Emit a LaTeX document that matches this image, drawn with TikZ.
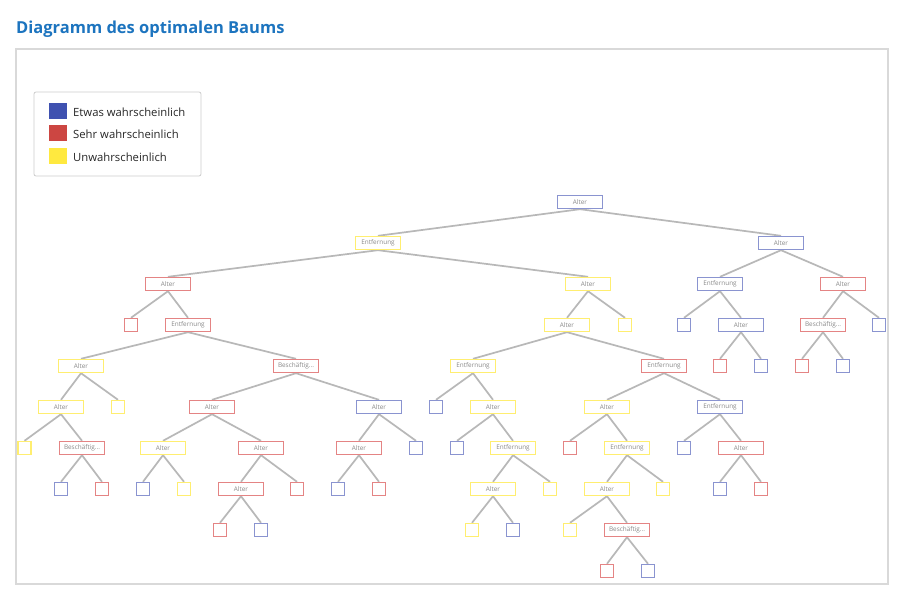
\documentclass[tikz,border=0pt]{standalone}
\usepackage{fontspec}
\setmainfont{Open Sans}
\usetikzlibrary{backgrounds}
\definecolor{titleblue}{HTML}{1C74BF}
\definecolor{sw blue}{HTML}{3F51B0}
\definecolor{sw red}{HTML}{CC4642}
\definecolor{sw yellow}{HTML}{FFE93F}
\definecolor{bd blue}{HTML}{8A94D0}
\definecolor{bd red}{HTML}{E48484}
\definecolor{bd yellow}{HTML}{FFEE70}
\definecolor{edgegray}{HTML}{B8B8B8}
\definecolor{txtgray}{HTML}{8A8A8A}
\tikzset{
  tbox/.style={draw, fill=white, line width=1.4pt, minimum width=45pt, minimum height=13pt, inner sep=0pt,
    font=\fontsize{6.4}{7}\selectfont, text=txtgray},
  lbox/.style={draw, fill=white, line width=1.4pt, minimum width=13pt, minimum height=13pt, inner sep=0pt},
  bn/.style={tbox, draw=bd blue}, rn/.style={tbox, draw=bd red}, yn/.style={tbox, draw=bd yellow},
  bl/.style={lbox, draw=bd blue}, rl/.style={lbox, draw=bd red}, yl/.style={lbox, draw=bd yellow},
  link/.style={draw=edgegray, line width=1.7pt},
  swatch/.style={minimum width=18pt, minimum height=16pt, inner sep=0pt},
  legtext/.style={anchor=west, inner sep=0pt, font=\fontsize{11.3}{13}\selectfont, text=black!85}
}
\begin{document}
\begin{tikzpicture}[x=1pt,y=-1pt]
\useasboundingbox (0,0) rectangle (905,601);
\node[anchor=west, inner sep=0pt, text=titleblue, font=\fontsize{16.5}{19}\selectfont\bfseries] (title) at (16,29) {Diagramm des optimalen Baums};
% legend
\draw[gray!40, line width=0.8pt, rounded corners=2pt, fill=white] (34,92) rectangle (201,176);
\node[swatch, fill=sw blue] (s1) at (58,111) {};
\node[swatch, fill=sw red] (s2) at (58,133) {};
\node[swatch, fill=sw yellow] (s3) at (58,156) {};
\node[legtext] (t1) at (73,112) {Etwas wahrscheinlich};
\node[legtext] (t2) at (73,134) {Sehr wahrscheinlich};
\node[legtext] (t3) at (73,157) {Unwahrscheinlich};
% tree nodes
\node[bn] (n0) at (580,202) {Alter};
\node[yn] (n1) at (378,243) {Entfernung};
\node[bn] (n2) at (781,243) {Alter};
\node[rn] (n3) at (168,284) {Alter};
\node[yn] (n4) at (588,284) {Alter};
\node[bn] (n5) at (720,284) {Entfernung};
\node[rn] (n6) at (843,284) {Alter};
\node[rl] (n7) at (131,325) {};
\node[rn] (n8) at (188,325) {Entfernung};
\node[yn] (n9) at (567,325) {Alter};
\node[yl] (n10) at (625,325) {};
\node[bl] (n11) at (684,325) {};
\node[bn] (n12) at (741,325) {Alter};
\node[rn] (n13) at (823,325) {Beschäftig...};
\node[bl] (n14) at (879,325) {};
\node[yn] (n15) at (81,366) {Alter};
\node[rn] (n16) at (296,366) {Beschäftig...};
\node[yn] (n17) at (473,366) {Entfernung};
\node[rn] (n18) at (664,366) {Entfernung};
\node[rl] (n19) at (720,366) {};
\node[bl] (n20) at (761,366) {};
\node[rl] (n21) at (802,366) {};
\node[bl] (n22) at (843,366) {};
\node[yn] (n23) at (61,407) {Alter};
\node[yl] (n24) at (118,407) {};
\node[rn] (n25) at (212,407) {Alter};
\node[bn] (n26) at (379,407) {Alter};
\node[bl] (n27) at (436,407) {};
\node[yn] (n28) at (493,407) {Alter};
\node[yn] (n29) at (607,407) {Alter};
\node[bn] (n30) at (720,407) {Entfernung};
\node[yl] (n31) at (24.5,448) {};
\node[rn] (n32) at (82,448) {Beschäftig...};
\node[yn] (n33) at (163,448) {Alter};
\node[rn] (n34) at (261,448) {Alter};
\node[rn] (n35) at (359,448) {Alter};
\node[bl] (n36) at (416,448) {};
\node[bl] (n37) at (457,448) {};
\node[yn] (n38) at (513,448) {Entfernung};
\node[rl] (n39) at (570,448) {};
\node[yn] (n40) at (627,448) {Entfernung};
\node[bl] (n41) at (684,448) {};
\node[rn] (n42) at (741,448) {Alter};
\node[bl] (n43) at (61,489) {};
\node[rl] (n44) at (102,489) {};
\node[bl] (n45) at (143,489) {};
\node[yl] (n46) at (184,489) {};
\node[rn] (n47) at (241,489) {Alter};
\node[rl] (n48) at (297,489) {};
\node[bl] (n49) at (338,489) {};
\node[rl] (n50) at (379,489) {};
\node[yn] (n51) at (493,489) {Alter};
\node[yl] (n52) at (550,489) {};
\node[yn] (n53) at (607,489) {Alter};
\node[yl] (n54) at (663,489) {};
\node[bl] (n55) at (720,489) {};
\node[rl] (n56) at (761,489) {};
\node[rl] (n57) at (220,530) {};
\node[bl] (n58) at (261,530) {};
\node[yl] (n59) at (472,530) {};
\node[bl] (n60) at (513,530) {};
\node[yl] (n61) at (570,530) {};
\node[rn] (n62) at (627,530) {Beschäftig...};
\node[rl] (n63) at (607,571) {};
\node[bl] (n64) at (648,571) {};
% background, frame and edges
\begin{scope}[on background layer]
\fill[white] (0,0) rectangle (905,601);
\draw[gray!30, line width=1.2pt, fill=white] (16,49) rectangle (888,584);
\foreach \p/\c in {n0/n1,n0/n2,n1/n3,n1/n4,n2/n5,n2/n6,n3/n7,n3/n8,n4/n9,n4/n10,n5/n11,n5/n12,n6/n13,n6/n14,
  n8/n15,n8/n16,n9/n17,n9/n18,n12/n19,n12/n20,n13/n21,n13/n22,n15/n23,n15/n24,n16/n25,n16/n26,
  n17/n27,n17/n28,n18/n29,n18/n30,n23/n31,n23/n32,n25/n33,n25/n34,n26/n35,n26/n36,n28/n37,n28/n38,
  n29/n39,n29/n40,n30/n41,n30/n42,n32/n43,n32/n44,n33/n45,n33/n46,n34/n47,n34/n48,n35/n49,n35/n50,
  n38/n51,n38/n52,n40/n53,n40/n54,n42/n55,n42/n56,n47/n57,n47/n58,n51/n59,n51/n60,n53/n61,n53/n62,
  n62/n63,n62/n64}
  \draw[link] (\p.south) -- (\c.north);
\end{scope}
\end{tikzpicture}
\end{document}
